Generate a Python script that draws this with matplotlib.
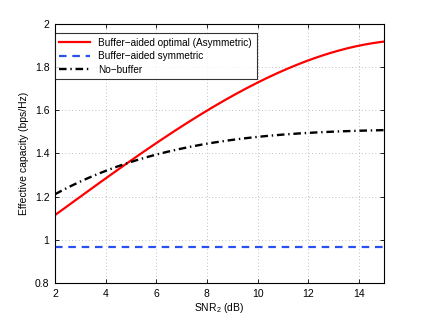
import matplotlib
matplotlib.use("Agg")
import matplotlib.pyplot as plt
import numpy as np

plt.rcParams['font.family'] = ['Liberation Sans', 'DejaVu Sans']
plt.rcParams['mathtext.fontset'] = 'custom'
plt.rcParams['mathtext.rm'] = 'Liberation Sans'
plt.rcParams['mathtext.it'] = 'Liberation Sans'

snr = [2, 4, 6, 8, 10, 12, 14, 15]
optimal = [1.118, 1.277, 1.450, 1.600, 1.735, 1.825, 1.895, 1.923]
nobuffer = [1.211, 1.320, 1.395, 1.444, 1.478, 1.496, 1.504, 1.509]
symmetric = [0.965] * len(snr)

xticks = [2, 4, 6, 8, 10, 12, 14]
yticks = [0.8, 1, 1.2, 1.4, 1.6, 1.8, 2]
ytick_labels = ["0.8", "1", "1.2", "1.4", "1.6", "1.8", "2"]

fig = plt.figure(figsize=(4.24, 3.19), dpi=100)
ax = fig.add_axes([0.1297, 0.1129, 0.7763, 0.8119])

xs = np.linspace(2, 15, 200)
c1 = np.polyfit(snr, optimal, 3)
c2 = np.polyfit(snr, nobuffer, 4)
ax.plot(xs, np.polyval(c1, xs), color="#ff0000", lw=1.6, label="Buffer\u2212aided optimal (Asymmetric)")
ax.plot(snr, symmetric, color="#2850f0", lw=1.6, ls=(0, (3.4, 2.6)), label="Buffer\u2212aided symmetric")
ax.plot(xs, np.polyval(c2, xs), color="black", lw=1.7, ls=(0, (3.2, 1.6, 0.6, 1.6)), label="No\u2212buffer")

ax.set_xlim(2, 15)
ax.set_ylim(0.8, 2)
ax.set_xticks(xticks)
ax.set_yticks(yticks)
ax.set_yticklabels(ytick_labels)
ax.tick_params(direction="in", top=True, right=True, labelsize=7.5, length=3, width=0.6, pad=4)
ax.grid(True, ls=(0, (1, 3)), color="#aaaaaa", lw=0.6)
for s in ax.spines.values():
    s.set_linewidth(0.8)
ax.set_xlabel("SNR$_2$ (dB)", fontsize=7.5, labelpad=2)
ax.set_ylabel("Effective capacity (bps/Hz)", fontsize=7.5, labelpad=4)

leg = ax.legend(loc="upper left", fontsize=7.2, frameon=True, fancybox=False,
                edgecolor="black", borderaxespad=0.0, handlelength=3.1,
                bbox_to_anchor=(0.0, 0.965), borderpad=0.45, labelspacing=0.35)
leg.get_frame().set_linewidth(0.8)

fig.savefig("out.png", dpi=100)
